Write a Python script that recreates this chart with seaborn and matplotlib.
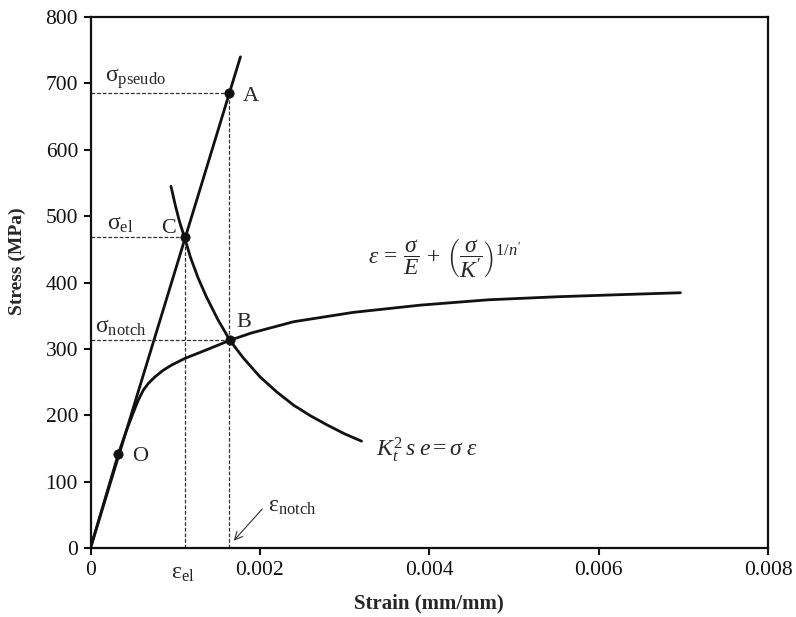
import numpy as np
import pandas as pd
import matplotlib
matplotlib.use("Agg")
import matplotlib.pyplot as plt
import seaborn as sns

# Elastic (pseudo) line
elastic_strain = [0.0, 0.00177]
elastic_stress = [0.0, 740.0]

# Cyclic stress-strain curve
cyclic_strain = [0.0, 0.000328, 0.00043, 0.000525, 0.000565, 0.000624, 0.000683,
                 0.000762, 0.00086, 0.000958, 0.001116, 0.001313, 0.001509,
                 0.001645, 0.0019, 0.0024, 0.0031, 0.0039, 0.0047, 0.0055,
                 0.0062, 0.006965]
cyclic_stress = [0.0, 141.6, 179.0, 210.4, 223.0, 238.0, 248.0,
                 258.0, 268.0, 275.7, 285.8, 295.7, 305.8,
                 313.0, 324.0, 341.0, 355.0, 366.0, 374.0, 378.5,
                 381.5, 384.6]

# Neuber hyperbola
neuber_strain = [0.00095, 0.0010, 0.00105, 0.00111, 0.00118, 0.00127, 0.00137,
                 0.0015, 0.001645, 0.0018, 0.0020, 0.0022, 0.0024, 0.0026,
                 0.0028, 0.0030, 0.0032]
neuber_stress = [545.0, 517.0, 492.0, 468.0, 438.0, 407.0, 378.0,
                 345.0, 313.0, 287.0, 258.0, 235.0, 215.0, 199.0,
                 185.0, 172.0, 161.0]

# Marked points
pt_labels = ["A", "C", "B", "O"]
pt_strain = [0.00164, 0.00111, 0.001645, 0.000328]
pt_stress = [685.0, 468.0, 313.0, 141.6]

x_ticks = [0.0, 0.002, 0.004, 0.006, 0.008]
x_tick_labels = ["0", "0.002", "0.004", "0.006", "0.008"]
y_ticks = [0, 100, 200, 300, 400, 500, 600, 700, 800]

sns.set_style("white")
plt.rcParams["font.family"] = ["Liberation Serif", "DejaVu Serif"]
plt.rcParams["mathtext.fontset"] = "custom"
plt.rcParams["mathtext.rm"] = "Liberation Serif"
plt.rcParams["mathtext.it"] = "Liberation Serif:italic"
plt.rcParams["mathtext.bf"] = "Liberation Serif:bold"

fig = plt.figure(figsize=(7.96, 6.17), dpi=100)
ax = fig.add_axes([0.1137, 0.1118, 0.8513, 0.8606])

ink = "#111111"
lw = 2.0

sns.lineplot(x=elastic_strain, y=elastic_stress, ax=ax, color=ink, lw=lw, sort=False)
sns.lineplot(x=cyclic_strain, y=cyclic_stress, ax=ax, color=ink, lw=lw, sort=False)
sns.lineplot(x=neuber_strain, y=neuber_stress, ax=ax, color=ink, lw=lw, sort=False)

# Dashed guide lines
pts = dict(zip(pt_labels, zip(pt_strain, pt_stress)))
dash = dict(color="#333333", lw=0.9, ls=(0, (3, 1.5)))
for key in ["A", "C", "B"]:
    ex, sy = pts[key]
    ax.plot([0, ex], [sy, sy], **dash)
for key in ["A", "C"]:
    ex, sy = pts[key]
    ax.plot([ex, ex], [0, sy], **dash)

sns.scatterplot(x=pt_strain, y=pt_stress, ax=ax, color=ink, s=45,
                edgecolor=ink, zorder=5)

fs = 17
ax.text(0.00017, 688, r"$\mathrm{\sigma_{pseudo}}$", fontsize=fs, va="bottom")
ax.text(0.0018, 680, "A", fontsize=16, va="center")
ax.text(0.0002, 471, r"$\mathrm{\sigma_{el}}$", fontsize=fs, va="bottom")
ax.text(0.00092, 482, "C", fontsize=16, va="center", ha="center")
ax.text(0.00005, 316, r"$\mathrm{\sigma_{notch}}$", fontsize=fs, va="bottom")
ax.text(0.00181, 340, "B", fontsize=16, va="center", ha="center")
ax.text(0.00058, 138, "O", fontsize=16, va="center", ha="center")
ax.text(0.00210, 62, r"$\mathrm{\varepsilon_{notch}}$", fontsize=fs, va="center")
ax.annotate("", xy=(0.00167, 8), xytext=(0.00205, 62),
            arrowprops=dict(arrowstyle="->", color="#333333", lw=0.8,
                            mutation_scale=14))
ax.text(0.00109, -22, r"$\mathrm{\varepsilon_{el}}$", fontsize=fs,
        ha="center", va="top", clip_on=False)

ax.text(0.00328, 436,
        r"$\varepsilon\,=\,\dfrac{\sigma}{E}\,+\,\left(\dfrac{\sigma}{K^{\prime}}\right)^{1/n^{\prime}}$",
        fontsize=17, va="center")
ax.text(0.00337, 148, r"$K_t^{2}\,s\;e=\sigma\;\varepsilon$", fontsize=17, va="center")

ax.set_xlim(0, 0.008)
ax.set_ylim(0, 800)
ax.set_xticks(x_ticks)
ax.set_xticklabels(x_tick_labels)
ax.set_yticks(y_ticks)
ax.tick_params(axis="both", direction="out", length=5, width=1.5, labelsize=15.5,
               colors=ink, bottom=True, left=True, top=False, right=False, pad=4)
for sp in ax.spines.values():
    sp.set_visible(True)
    sp.set_color(ink)
    sp.set_linewidth(1.6)

ax.set_xlabel("Strain (mm/mm)", fontsize=15, fontweight="bold", labelpad=10)
ax.set_ylabel("Stress (MPa)", fontsize=14, fontweight="bold", labelpad=8)
ax.yaxis.set_label_coords(-0.095, 0.54)

fig.savefig("out.png", dpi=100)
